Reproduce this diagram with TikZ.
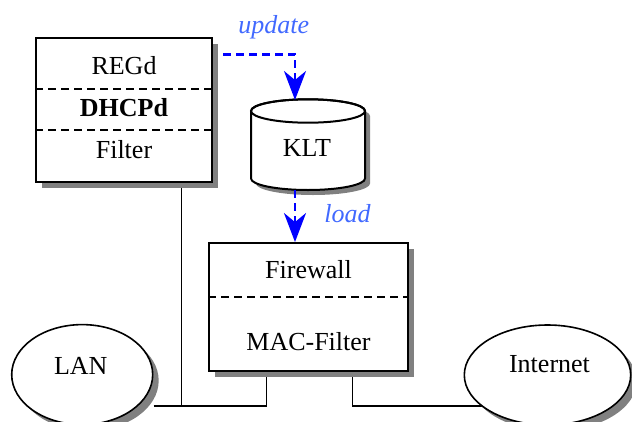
\documentclass[tikz,border=0pt]{standalone}
\usepackage{fontspec}
\setmainfont{Liberation Serif}
\usetikzlibrary{shapes.geometric,shadows,arrows.meta,backgrounds}
\definecolor{lblue}{RGB}{65,105,255}
\definecolor{shadowgray}{RGB}{128,128,128}
\definecolor{arrowblue}{RGB}{0,0,255}
\begin{document}
\begin{tikzpicture}[x=1pt,y=-1pt,
  lbl/.style={font=\fontsize{26}{30}\selectfont, anchor=base, inner sep=0pt},
  blbl/.style={font=\fontsize{26}{30}\selectfont\itshape, anchor=base, inner sep=0pt, text=lblue},
  shadowed/.style={drop shadow={shadow xshift=6pt, shadow yshift=-6pt, fill=shadowgray, opacity=1}},
  box/.style={draw=black, line width=2pt, fill=white, inner sep=0pt, shadowed},
  ell/.style={ellipse, draw=black, line width=1.6pt, fill=white, inner sep=0pt, shadowed},
  sep/.style={draw=black, line width=2pt, dash pattern=on 8pt off 5pt},
  flow/.style={draw=arrowblue, line width=2.5pt, dash pattern=on 8pt off 5pt, -{Stealth[length=29pt 0 0, width=22pt 0 0, inset=9pt 0]}},
  wire/.style={draw=black, line width=1.5pt}
]
\useasboundingbox (0,0) rectangle (632,421);

% server box
\node[box, minimum width=176pt, minimum height=144pt] (srv) at (124,110) {};
\draw[sep] (srv.west |- 0,88.7) -- ([xshift=3pt]srv.east |- 0,88.7);
\draw[sep] (srv.west |- 0,130) -- ([xshift=3pt]srv.east |- 0,130);
\node[lbl] (regd) at (124,74) {REGd};
\node[lbl] (dhcpd) at (124,116.7) {\bfseries DHCPd};
\node[lbl] (filter) at (124,158.3) {Filter};

% cylinder KLT
\fill[shadowgray] (256,116) -- (256,183.5) arc[start angle=180, end angle=360, x radius=57pt, y radius=11.5pt] -- (370,116) arc[start angle=0, end angle=180, x radius=57pt, y radius=11.7pt] -- cycle;
\filldraw[fill=white, draw=black, line width=2pt] (251,111) -- (251,178.5) arc[start angle=180, end angle=360, x radius=57pt, y radius=11.5pt] -- (365,111) arc[start angle=0, end angle=180, x radius=57pt, y radius=11.7pt] -- cycle;
\draw[line width=2pt] (308,111) ellipse [x radius=57pt, y radius=11.7pt];
\node[lbl] (klt) at (307,156) {KLT};
\coordinate (kltTop) at (295,100);
\coordinate (kltBot) at (295,190);

% firewall box
\node[box, minimum width=199pt, minimum height=127.7pt] (fw) at (308.5,306.9) {};
\draw[sep] (fw.west |- 0,297) -- (fw.east |- 0,297);
\node[lbl] (fwl) at (308.5,278.3) {Firewall};
\node[lbl] (mac) at (308.5,350) {MAC-Filter};

% networks
\node[ell, minimum width=141pt, minimum height=100pt] (lan) at (82.2,374.6) {};
\node[lbl] (lanl) at (80.8,374) {LAN};
\node[ell, minimum width=166.4pt, minimum height=100pt] (inet) at (547.5,375) {};
\node[lbl] (inetl) at (549.5,372.7) {Internet};

% flows
\draw[flow] ([xshift=10pt]srv.east |- 0,54.3) -| (kltTop);
\draw[flow] (kltBot) -- (kltBot |- fw.north);
\node[blbl] (upd) at (273.7,33) {update};
\node[blbl] (ld) at (347.5,222.7) {load};

% wires
\coordinate (busA) at (181.7,406);
\coordinate (busB) at (266.7,406);
\coordinate (busC) at (352.3,406);
\begin{pgfonlayer}{background}
\draw[wire] (busA |- srv.south) -- (busA);
\draw[wire] (lan.east |- busA) -- (busB) -- (busB |- fw.south);
\draw[wire] (busC |- fw.south) -- (busC) -- (inet.center |- busC);
\end{pgfonlayer}
\end{tikzpicture}
\end{document}
